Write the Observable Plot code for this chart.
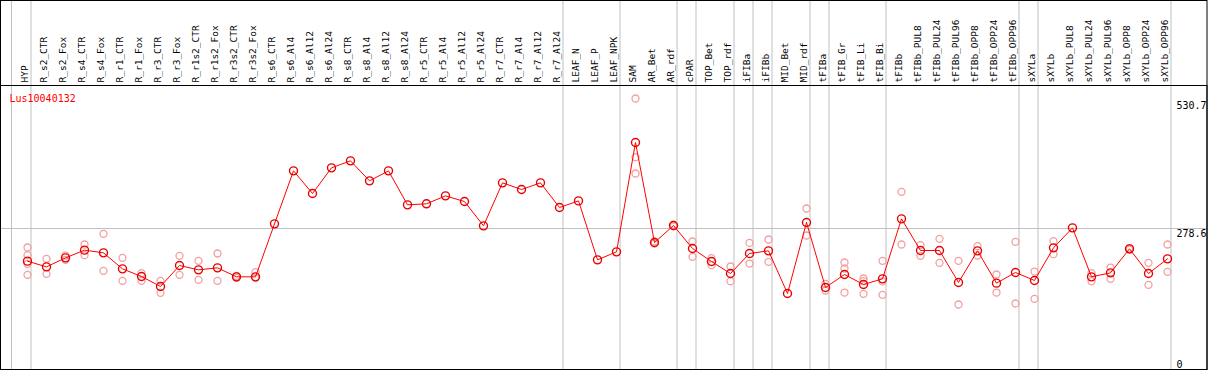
<!DOCTYPE html>
<html>
<head>
<meta charset="utf-8">
<script src="https://cdn.jsdelivr.net/npm/d3@7"></script>
<script src="https://cdn.jsdelivr.net/npm/@observablehq/plot@0.6"></script>
<style>
  html, body { margin: 0; padding: 0; background: #fff; }
  #chart { width: 1209px; height: 370px; }
</style>
</head>
<body>
<div id="chart"></div>
<script>
const title = "Lus10040132";

const categories = [
  "HYP","R_s2_CTR","R_s2_Fox","R_s4_CTR","R_s4_Fox","R_r1_CTR","R_r1_Fox","R_r3_CTR","R_r3_Fox",
  "R_r1s2_CTR","R_r1s2_Fox","R_r3s2_CTR","R_r3s2_Fox","R_s6_CTR","R_s6_Al4","R_s6_Al12","R_s6_Al24",
  "R_s8_CTR","R_s8_Al4","R_s8_Al12","R_s8_Al24","R_r5_CTR","R_r5_Al4","R_r5_Al12","R_r5_Al24",
  "R_r7_CTR","R_r7_Al4","R_r7_Al12","R_r7_Al24","LEAF_N","LEAF_P","LEAF_NPK","SAM","AR_Bet","AR_rdf",
  "cPAR","TOP_Bet","TOP_rdf","iFIBa","iFIBb","MID_Bet","MID_rdf","tFIBa","tFIB_Gr","tFIB_Li","tFIB_Bi",
  "tFIBb","tFIBb_PUL8","tFIBb_PUL24","tFIBb_PUL96","tFIBb_OPP8","tFIBb_OPP24","tFIBb_OPP96",
  "sXYLa","sXYLb","sXYLb_PUL8","sXYLb_PUL24","sXYLb_PUL96","sXYLb_OPP8","sXYLb_OPP24","sXYLb_OPP96"
];

const means = [
  214.1, 202.8, 220.6, 235.8, 230.5, 198.9, 183.8, 164.0, 205.5,
  196.9, 200.9, 183.1, 183.1, 287.8, 392.5, 347.8, 398.5,
  412.3, 372.8, 392.5, 325.4, 327.4, 343.1, 331.9, 283.9,
  368.8, 355.7, 368.8, 320.1, 333.2, 216.7, 232.5, 448.5, 250.9, 284.5,
  239.1, 213.4, 189.7, 229.2, 234.5, 150.2, 290.5, 162.0, 187.7, 168.0, 179.1,
  297.7, 235.1, 235.1, 171.9, 234.5, 170.6, 191.7,
  175.9, 240.4, 279.9, 183.1, 191.0, 238.4, 189.7, 218.7
];

const replicates = [
  [241.1, 225.9, 208.8, 187.0], [218.7, 189.0], [225.2, 216.7], [247.0, 225.9], [268.1, 194.9],
  [220.6, 175.2], [190.3, 175.2], [175.2, 151.5], [224.6, 187.0],
  [214.7, 177.2], [229.2, 175.2], [185.0, 181.0], [192.3, 181.1], [], [], [], [],
  [], [], [], [], [], [], [], [],
  [], [], [], [], [], [], [], [535.5, 419.6, 387.3], [253.0, 249.0], [286.0, 283.0],
  [252.9, 222.6], [220.0, 206.2], [203.5, 174.5], [250.2, 209.4], [256.9, 212.7], [],
  [318.1, 264.8], [169.3, 156.1], [211.4, 199.6, 152.1], [179.8, 174.5, 149.5], [214.7, 174.1, 147.5],
  [351.0, 247.0], [245.7, 224.6], [258.2, 210.7], [214.7, 128.4], [243.7, 225.3], [187.7, 152.1], [252.2, 130.4],
  [193.6, 139.6], [253.6, 227.9], [], [190.3, 174.5], [201.5, 179.1], [240.0, 237.0], [210.7, 167.3], [247.0, 193.0]
];

const yTickValues = [530.7, 278.6];
const yZeroTick = [0];
const separatorsAfter = ["HYP","R_r7_Al24","LEAF_NPK","AR_rdf","cPAR","TOP_rdf","iFIBa","iFIBb",
  "MID_rdf","tFIBa","tFIB_Bi","tFIBb_OPP96","sXYLa","sXYLb_OPP96"];
const separatorsBefore = ["HYP"];

const meanData = categories.map((c, i) => ({cat: c, value: means[i]}));
const repData = categories.flatMap((c, i) => replicates[i].map(v => ({cat: c, value: v})));

const chart = Plot.plot({
  width: 1209,
  height: 370,
  marginTop: 85,
  marginBottom: 1,
  marginLeft: 26.5,
  marginRight: 42.5,
  style: {fontFamily: "'DejaVu Sans Mono', monospace", fontSize: "9.5px", background: "#fff", color: "#000"},
  x: {type: "point", domain: categories, padding: 0},
  y: {domain: [0, 561.2], axis: null},
  marks: [
    Plot.ruleY([yTickValues[1]], {stroke: "#c0c0c0", insetLeft: -26.5, insetRight: -40.5}),
    Plot.ruleX(separatorsAfter, {x: d => d, dx: 3.5, stroke: "#c0c0c0", insetTop: -85}),
    Plot.ruleX(separatorsBefore, {x: d => d, dx: -16, stroke: "#c0c0c0", insetTop: -85}),
    Plot.frame({stroke: "#000", insetLeft: -26.5, insetRight: -40, insetTop: -85}),
    Plot.frame({stroke: "#000", insetLeft: -26.5, insetRight: -40}),
    Plot.axisX({anchor: "top", tickRotate: -90, tickSize: 0, tickPadding: 3, dx: -3, label: null, fontSize: 9.5}),
    Plot.text(yTickValues, {y: d => d, text: d => String(d), frameAnchor: "right", dx: 9.5, dy: 1, textAnchor: "start", lineAnchor: "top", fontSize: 10}),
    Plot.text(yZeroTick, {y: d => d, text: d => String(d), frameAnchor: "right", dx: 9.5, dy: -2, textAnchor: "start", lineAnchor: "bottom", fontSize: 10}),
    Plot.text([title], {frameAnchor: "top-left", dx: -17.5, dy: 13, textAnchor: "start", lineAnchor: "middle", fill: "#ff0000", fontSize: 10}),
    Plot.dot(repData, {x: "cat", y: "value", r: 3.5, stroke: "#f2a0a0", strokeWidth: 1.3, fill: "none"}),
    Plot.line(meanData, {x: "cat", y: "value", stroke: "#ff0000", strokeWidth: 1}),
    Plot.dot(meanData, {x: "cat", y: "value", r: 4, stroke: "#e80000", strokeWidth: 1.4, fill: "none"})
  ]
});
document.getElementById("chart").appendChild(chart);
</script>
</body>
</html>
